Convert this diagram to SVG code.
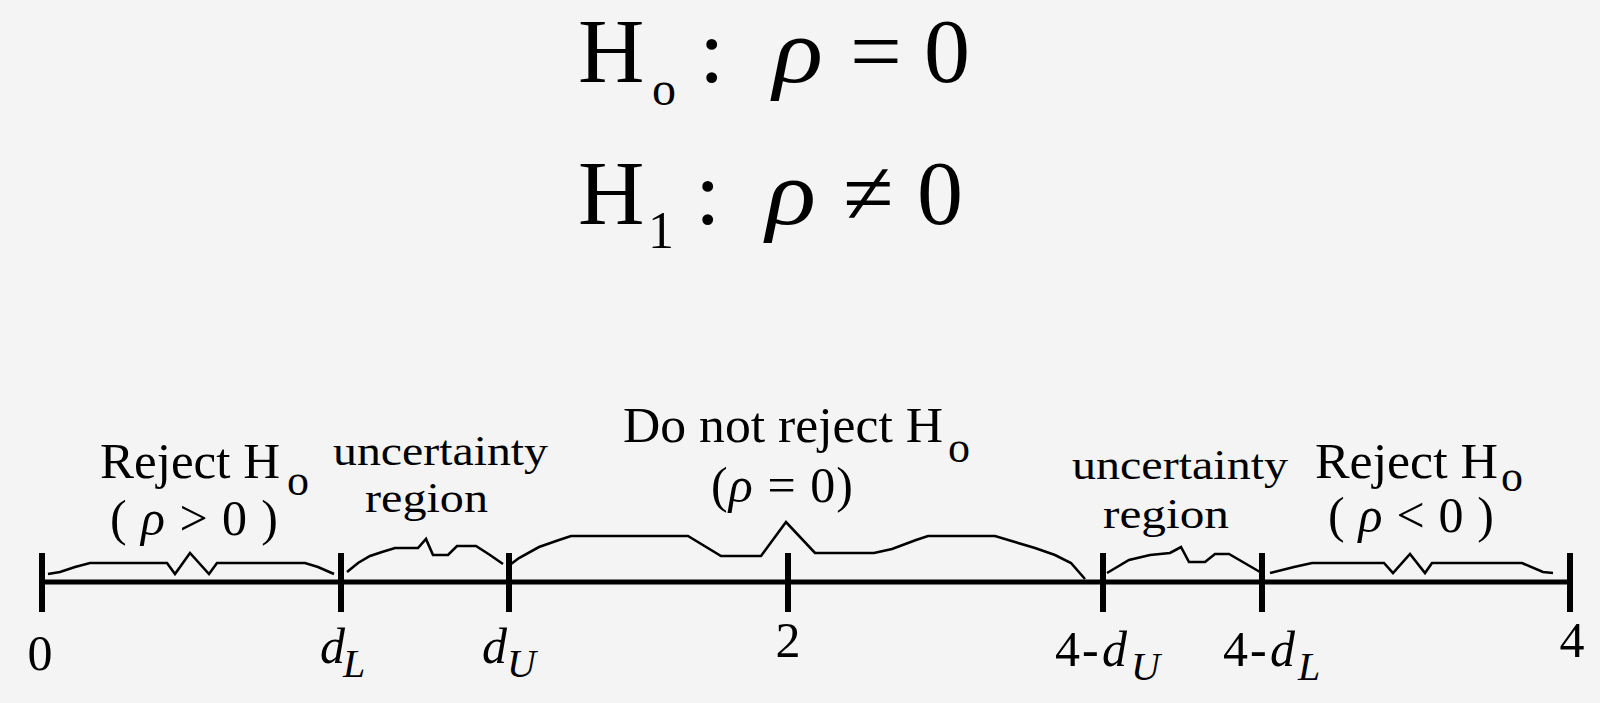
<svg xmlns="http://www.w3.org/2000/svg" width="1600" height="703" viewBox="0 0 1600 703">
<style>
.bg{fill:#f4f4f4}
.m{font-family:"Liberation Serif","Times New Roman",serif;fill:#000}
.big{font-size:92px}
.lab{font-size:50px}
.lw{font-size:43px}
.sub{font-size:44px}
.it{font-style:italic}
.axis{stroke:#000;stroke-width:5;fill:none}
.tick{stroke:#000;stroke-width:6;fill:none}
.curve{stroke:#000;stroke-width:2.6;fill:none;stroke-linejoin:miter}
</style>
<rect class="bg" x="0" y="0" width="1600" height="703"/>

<g id="hypotheses">
  <text class="m big" x="578" y="82">H</text>
  <text class="m" x="652" y="105" font-size="48">o</text>
  <text class="m big" x="699" y="82">:</text>
  <text class="m big it" x="773" y="82" textLength="50" lengthAdjust="spacingAndGlyphs">ρ</text>
  <text class="m big" x="850" y="82">=</text>
  <text class="m big" x="924" y="82">0</text>

  <text class="m big" x="578" y="224">H</text>
  <text class="m" x="648" y="248" font-size="52">1</text>
  <text class="m big" x="695" y="224">:</text>
  <text class="m big it" x="766" y="224" textLength="50" lengthAdjust="spacingAndGlyphs">ρ</text>
  <text class="m big" x="843" y="224">≠</text>
  <text class="m big" x="917" y="224">0</text>
</g>

<g id="connectors">
  <line class="axis" x1="42" y1="582" x2="1570" y2="582"/>
  <polyline class="curve" points="48,574 60,572 75,567 90,563 167,563 175,574 190,553 209,574 217,563 305,563 318,567 334,574"/>
  <polyline class="curve" points="347,572 358,563 370,556 382,552 395,548 418,548 426,539 433,555 448,555 457,546 476,546 490,555 503,564"/>
  <polyline class="curve" points="511,564 519,558 539,547 559,540 571,536 688,536 721,556 761,556 786,522 815,553 874,553 892,549 916,540 928,536 995,536 1015,542 1035,548 1055,555 1071,563 1085,579"/>
  <polyline class="curve" points="1107,573 1129,560 1150,555 1170,553 1181,547 1189,562 1205,562 1215,554 1229,554 1260,572"/>
  <polyline class="curve" points="1270,573 1294,567 1312,563 1384,563 1393,573 1410,554 1425,573 1432,563 1522,563 1543,572 1553,573"/>
</g>

<g id="tick-0"><line class="tick" x1="42" y1="553" x2="42" y2="612"/><text class="m lab" x="40" y="670" text-anchor="middle">0</text></g>
<g id="tick-dL"><line class="tick" x1="341" y1="553" x2="341" y2="612"/><text class="m lab it" x="320" y="663">d</text><text class="m it" x="343" y="677" font-size="40">L</text></g>
<g id="tick-dU"><line class="tick" x1="509" y1="553" x2="509" y2="612"/><text class="m lab it" x="482" y="663">d</text><text class="m it" x="507" y="677" font-size="40">U</text></g>
<g id="tick-2"><line class="tick" x1="788" y1="553" x2="788" y2="612"/><text class="m lab" x="788" y="657" text-anchor="middle">2</text></g>
<g id="tick-4-dU"><line class="tick" x1="1103" y1="553" x2="1103" y2="612"/><text class="m lab" x="1055" y="666">4</text><text class="m lab" x="1082" y="666">-</text><text class="m lab it" x="1102" y="666">d</text><text class="m it" x="1131" y="680" font-size="40">U</text></g>
<g id="tick-4-dL"><line class="tick" x1="1262" y1="553" x2="1262" y2="612"/><text class="m lab" x="1223" y="666">4</text><text class="m lab" x="1250" y="666">-</text><text class="m lab it" x="1270" y="666">d</text><text class="m it" x="1298" y="680" font-size="40">L</text></g>
<g id="tick-4"><line class="tick" x1="1570" y1="553" x2="1570" y2="612"/><text class="m lab" x="1572" y="657" text-anchor="middle">4</text></g>

<g id="region-reject-left">
  <text class="m lab" x="100" y="478" textLength="180" lengthAdjust="spacingAndGlyphs">Reject H</text>
  <text class="m sub" x="287" y="495">o</text>
  <text class="m lab" x="110" y="535" textLength="168" lengthAdjust="spacing">( <tspan class="it">ρ</tspan> &gt; 0 )</text>
</g>
<g id="region-uncertainty-left">
  <text class="m lw" x="333" y="465" textLength="215" lengthAdjust="spacingAndGlyphs">uncertainty</text>
  <text class="m lw" x="365" y="512" textLength="123" lengthAdjust="spacingAndGlyphs">region</text>
</g>
<g id="region-do-not-reject">
  <text class="m lab" x="623" y="442" textLength="320" lengthAdjust="spacingAndGlyphs">Do not reject H</text>
  <text class="m sub" x="948" y="462">o</text>
  <text class="m lab" x="711" y="502" textLength="142" lengthAdjust="spacing">(<tspan class="it">ρ</tspan> = 0)</text>
</g>
<g id="region-uncertainty-right">
  <text class="m lw" x="1072" y="479" textLength="216" lengthAdjust="spacingAndGlyphs">uncertainty</text>
  <text class="m lw" x="1103" y="528" textLength="126" lengthAdjust="spacingAndGlyphs">region</text>
</g>
<g id="region-reject-right">
  <text class="m lab" x="1315" y="478" textLength="183" lengthAdjust="spacingAndGlyphs">Reject H</text>
  <text class="m sub" x="1501" y="491">o</text>
  <text class="m lab" x="1328" y="532" textLength="166" lengthAdjust="spacing">( <tspan class="it">ρ</tspan> &lt; 0 )</text>
</g>
</svg>
